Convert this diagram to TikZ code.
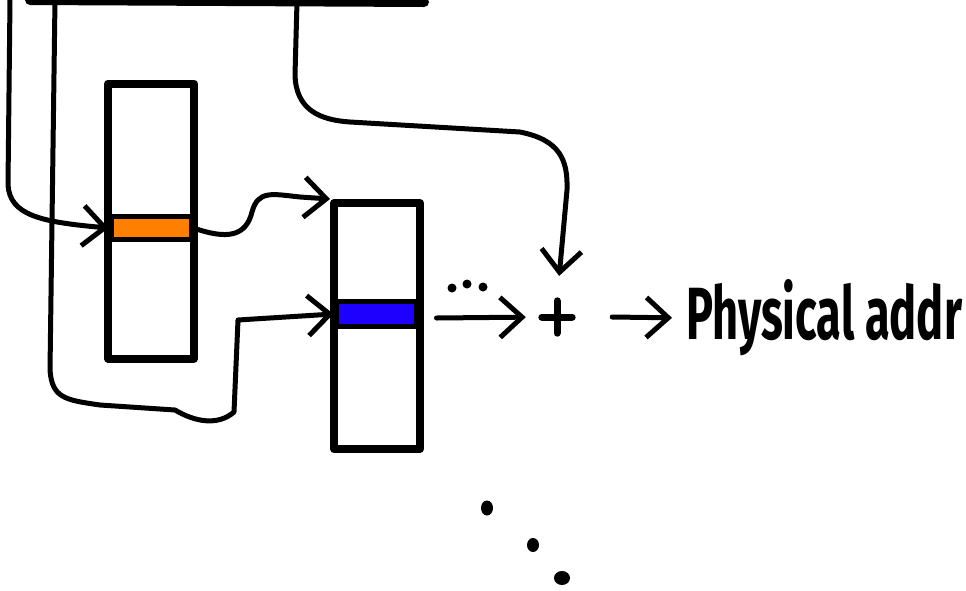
\documentclass[tikz,border=0pt]{standalone}
\usepackage{fontspec}
\setsansfont{Fira Sans}
\usetikzlibrary{arrows.meta}
\tikzset{
  wire/.style={line width=5pt, line cap=round, line join=round},
  tbl/.style={draw, line width=8pt, line join=round, inner sep=0pt},
  band/.style={draw, line width=5pt, inner sep=0pt, minimum width=80pt},
  barb/.style={-{Straight Barb[length=22pt, width=40pt, line width=5pt]}},
  crossnode/.style={minimum size=34pt, inner sep=0pt},
}
\definecolor{bandorange}{RGB}{255,127,0}
\definecolor{bandblue}{RGB}{30,0,255}
\begin{document}
\begin{tikzpicture}[x=1pt, y=-1pt]
  \useasboundingbox (0,0) rectangle (966,590);

  % bottom edge of the structure above
  \draw[line width=10pt, line cap=round] (30,0) -- (424,2);

  % the two tables
  \node[tbl, minimum width=86pt, minimum height=275pt] (t1) at (151,221) {};
  \node[tbl, minimum width=86pt, minimum height=246pt] (t2) at (377,326) {};

  % selected entries
  \node[band, fill=bandorange, minimum height=23pt] (e1) at (151,228) {};
  \node[band, fill=bandblue, minimum height=25pt] (e2) at (376,314) {};

  % adder, drawn as a cross inside an invisible node
  \node[crossnode] (plus) at (557,317) {};
  \draw[line width=7pt, line cap=round]
    ([xshift=2pt]plus.west) -- ([xshift=-2pt]plus.east)
    ([yshift=-1pt]plus.north) -- ([yshift=1pt]plus.south);

  % result label
  \node[anchor=west, font=\sffamily\bfseries\fontsize{74}{74}\selectfont,
        xscale=0.61, transform shape, inner sep=0pt] (pa) at (686,318) {Physical addr};

  % free ends of the wires that come from above
  \coordinate (s1) at (10,0);
  \coordinate (s2) at (55,0);
  \coordinate (s3) at (297,2);

  % wire into the first table
  \draw[wire, barb] (s1) -- (8,185) .. controls (10,215) and (40,222) .. (e1.west);

  % first table entry to the second table
  \draw[wire, barb] (e1.east) .. controls (228,240) and (246,236) .. (252,212)
    .. controls (258,190) and (272,194) .. (300,197) -- (t2.north west);

  % wire into the second table entry
  \draw[wire, barb] (s2) -- (50,370) .. controls (52,398) and (65,400) .. (100,405)
    -- (175,410) .. controls (195,422) and (218,426) .. (234,412)
    -- (238,320) -- (e2.west);

  % wire down into the adder
  \draw[wire, barb, shorten >=24pt] (s3) -- (295,75) .. controls (296,110) and (320,120) .. (350,122)
    -- (520,132) .. controls (560,140) and (568,160) .. (567,190) -- (plus.north);

  % second table entry to the adder, with the elision dots
  \draw[wire, barb, shorten >=14pt] (e2.east) ++(18,4) -- (plus.west);
  \fill (452,288) circle (4.5pt) (467,284) circle (4.5pt) (483,287) circle (4.5pt);

  % adder to the result
  \draw[wire, barb, shorten >=14pt] (plus.east) ++(38,0) -- (pa.west);

  % trailing dots
  \fill (487,508) ellipse (6pt and 7.5pt);
  \fill (533,545) ellipse (6pt and 7pt);
  \fill (562,578) ellipse (8pt and 7pt);
\end{tikzpicture}
\end{document}
